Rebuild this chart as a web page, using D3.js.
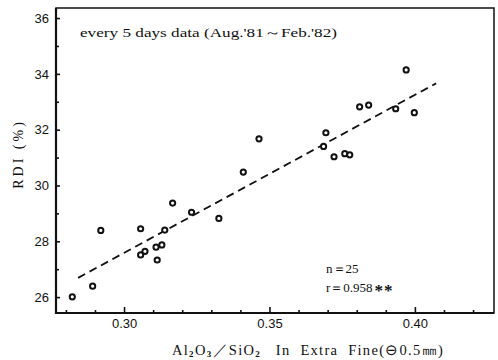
<!DOCTYPE html>
<html>
<head>
<meta charset="utf-8">
<script src="https://cdn.jsdelivr.net/npm/d3@7"></script>
<style>
  html, body { margin: 0; padding: 0; background: #fff; }
  svg { display: block; }
</style>
</head>
<body>
<div id="chart"></div>
<script>
// ── Data ────────────────────────────────────────────────────────────────
const ratio = [0.2822, 0.2892, 0.2920, 0.3057, 0.3057, 0.3072, 0.3110, 0.3130, 0.3114, 0.3140,
  0.3167, 0.3232, 0.3326, 0.3410, 0.3464, 0.3686, 0.3694, 0.3722, 0.3759, 0.3776,
  0.3810, 0.3841, 0.3934, 0.3970, 0.3998]
const rdi = [26.01, 26.39, 28.39, 28.45, 27.51, 27.64, 27.79, 27.87, 27.33, 28.40,
  29.37, 29.04, 28.82, 30.48, 31.67, 31.40, 31.89, 31.03, 31.14, 31.10,
  32.82, 32.88, 32.75, 34.14, 32.61]
const fitX = [0.2842, 0.4073]
const fitY = [26.69, 33.66]
const xMajor = [0.30, 0.35, 0.40]
const xMinor = [0.28, 0.29, 0.31, 0.32, 0.33, 0.34, 0.36, 0.37, 0.38, 0.39, 0.41, 0.42]
const yMajor = [26, 28, 30, 32, 34, 36]
const yMinor = [27, 29, 31, 33, 35]

const W = 498, H = 360
const L = 56, R = 494, T = 8, B = 313

const svg = d3.select('#chart').append('svg').attr('width', W).attr('height', H)

const x = d3.scaleLinear().domain([0.2766, 0.4272]).range([L, R])
const y = d3.scaleLinear().domain([25.43, 36.36]).range([B, T])

// ── Axes (ticks point inward) ───────────────────────────────────────────
const sans = 'Liberation Sans, Arial, sans-serif'
const serif = 'Liberation Serif, Times New Roman, serif'

const yAx = svg.append('g').attr('transform', `translate(${L},0)`)
  .call(d3.axisLeft(y).tickValues(yMajor).tickSize(-4).tickPadding(7).tickFormat(d3.format('d')))
const yAxMin = svg.append('g').attr('transform', `translate(${L},0)`)
  .call(d3.axisLeft(y).tickValues(yMinor).tickSize(-3).tickFormat(''))
const xAx = svg.append('g').attr('transform', `translate(0,${B})`)
  .call(d3.axisBottom(x).tickValues(xMajor).tickSize(-6).tickPadding(6).tickFormat(d3.format('.2f')))
const xAxMin = svg.append('g').attr('transform', `translate(0,${B})`)
  .call(d3.axisBottom(x).tickValues(xMinor).tickSize(-3).tickFormat(''))

;[yAx, yAxMin, xAx, xAxMin].forEach(g => {
  g.select('.domain').remove()
  g.selectAll('line').attr('stroke', '#111').attr('stroke-width', 1.6)
  g.selectAll('text').attr('fill', '#111').style('font-family', sans).style('font-size', '13px')
})

// frame
svg.append('rect').attr('x', L).attr('y', T).attr('width', R - L).attr('height', B - T)
  .attr('fill', 'none').attr('stroke', '#111').attr('stroke-width', 1.5)
svg.append('line').attr('x1', L).attr('x2', L).attr('y1', T).attr('y2', B + 1)
  .attr('stroke', '#111').attr('stroke-width', 2.2)
svg.append('line').attr('x1', L).attr('x2', R).attr('y1', B).attr('y2', B)
  .attr('stroke', '#111').attr('stroke-width', 2.2)

// ── Regression line ─────────────────────────────────────────────────────
svg.append('line')
  .attr('x1', x(fitX[0])).attr('y1', y(fitY[0]))
  .attr('x2', x(fitX[1])).attr('y2', y(fitY[1]))
  .attr('stroke', '#111').attr('stroke-width', 1.8).attr('stroke-dasharray', '8,5')

// ── Points ──────────────────────────────────────────────────────────────
svg.append('g').selectAll('circle')
  .data(ratio.map((v, i) => ({ x: v, y: rdi[i] })))
  .join('circle')
  .attr('cx', d => x(d.x)).attr('cy', d => y(d.y))
  .attr('r', 2.6)
  .attr('fill', '#fff').attr('stroke', '#111').attr('stroke-width', 2)

// ── Texts ───────────────────────────────────────────────────────────────
svg.append('text').attr('x', 80).attr('y', 37)
  .attr('textLength', 257).attr('lengthAdjust', 'spacingAndGlyphs')
  .style('font-family', serif).style('font-size', '13px').attr('fill', '#111')
  .text("every 5  days data (Aug.'81～Feb.'82)")

svg.append('text').attr('x', 326).attr('y', 273)
  .style('font-family', serif).style('font-size', '13px').attr('fill', '#111')
  .text('n＝25')
const rt = svg.append('text').attr('x', 326).attr('y', 292)
  .style('font-family', serif).style('font-size', '13px').attr('fill', '#111')
rt.append('tspan').text('r＝0.958')
rt.append('tspan').attr('dx', 2).attr('dy', 4).style('font-size', '17px').style('font-weight', 'bold')
  .attr('letter-spacing', 1).text('**')

svg.append('text')
  .attr('transform', 'translate(23,154) rotate(-90)')
  .attr('text-anchor', 'middle')
  .attr('letter-spacing', 3)
  .style('font-family', serif).style('font-size', '14px').attr('fill', '#111')
  .text('RDI (%)')

const xt = svg.append('text').attr('x', 172).attr('y', 355)
  .attr('letter-spacing', 1.3)
  .style('font-family', serif).style('font-size', '14.5px').attr('fill', '#111')
xt.append('tspan').text('Al')
xt.append('tspan').attr('font-size', '9px').attr('font-weight', 'bold').attr('dy', 2).text('2')
xt.append('tspan').attr('dy', -2).text('O')
xt.append('tspan').attr('font-size', '9px').attr('font-weight', 'bold').attr('dy', 2).text('3')
xt.append('tspan').attr('dy', -2).text('／SiO')
xt.append('tspan').attr('font-size', '9px').attr('font-weight', 'bold').attr('dy', 2).text('2')
xt.append('tspan').attr('dy', -2).attr('xml:space', 'preserve').style('white-space', 'pre')
  .text('   In  Extra  Fine(⊖0.5㎜)')
</script>
</body>
</html>
